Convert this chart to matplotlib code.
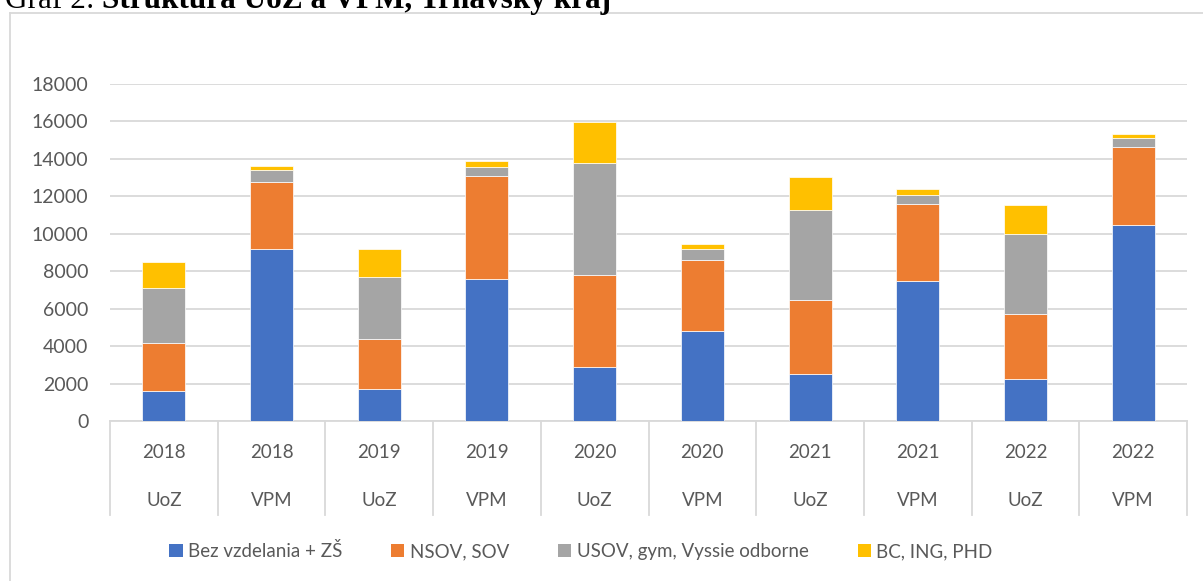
import matplotlib.pyplot as plt
from matplotlib.patches import Patch
from matplotlib.lines import Line2D
import numpy as np

# roky a typ (UoZ = uchadzaci o zamestnanie, VPM = volne pracovne miesta)
roky = ['2018', '2018', '2019', '2019', '2020', '2020', '2021', '2021', '2022', '2022']
typ = ['UoZ', 'VPM', 'UoZ', 'VPM', 'UoZ', 'VPM', 'UoZ', 'VPM', 'UoZ', 'VPM']

bez_vzdelania_zs = [1600, 9200, 1700, 7600, 2870, 4820, 2530, 7490, 2220, 10470]
nsov_sov = [2550, 3570, 2700, 5510, 4910, 3770, 3950, 4120, 3470, 4150]
usov_gym = [2950, 630, 3310, 480, 6020, 600, 4810, 480, 4290, 480]
bc_ing_phd = [1400, 240, 1480, 300, 2190, 250, 1740, 290, 1570, 240]

nazvy = ['Bez vzdelania + ZŠ', 'NSOV, SOV', 'USOV, gym, Vyssie odborne', 'BC, ING, PHD']
farby = ['#4472C4', '#ED7D31', '#A5A5A5', '#FFC000']

W, H = 1203, 581
plt.rcParams['font.family'] = ['Lato', 'DejaVu Sans']
fig = plt.figure(figsize=(W / 100, H / 100), dpi=100)

# plocha grafu v pixeloch
left, right, y0, ytop = 110, 1187, 421, 84
ax = fig.add_axes([left / W, 1 - y0 / H, (right - left) / W, (y0 - ytop) / H])

x = np.arange(len(roky))
spodok = np.zeros(len(roky))
for hodnoty, farba, nazov in zip([bez_vzdelania_zs, nsov_sov, usov_gym, bc_ing_phd], farby, nazvy):
    ax.bar(x, hodnoty, width=0.4, bottom=spodok, color=farba, edgecolor='white', linewidth=0.5,
           label=nazov, zorder=3)
    spodok += np.array(hodnoty)

ax.set_xlim(-0.5, len(roky) - 0.5)
ax.set_ylim(0, 18000)
ax.set_yticks(range(0, 18001, 2000))
ax.tick_params(axis='y', length=0, pad=15.5, labelsize=14, labelcolor='#595959')
ax.set_xticks([])
ax.grid(axis='y', color='#D9D9D9', linewidth=1.3, zorder=0)
for s in ['top', 'right', 'left']:
    ax.spines[s].set_visible(False)
ax.spines['bottom'].set_color('#D9D9D9')
ax.spines['bottom'].set_linewidth(1.3)

# popisky kategorii a oddelovace
h_ax = y0 - ytop
trans = ax.get_xaxis_transform()
for i in range(len(roky)):
    ax.text(i, -(452 - y0) / h_ax, roky[i], transform=trans, ha='center', va='center',
            fontsize=13.5, color='#595959')
    ax.text(i, -(500 - y0) / h_ax, typ[i], transform=trans, ha='center', va='center',
            fontsize=13.5, color='#595959')
for i in range(len(roky) + 1):
    ax.add_line(Line2D([i - 0.5, i - 0.5], [0, -(515 - y0) / h_ax], transform=trans,
                       color='#D9D9D9', linewidth=1.3, clip_on=False))

handles = [Patch(facecolor=f, label=n) for f, n in zip(farby, nazvy)]
fig.legend(handles=handles, loc='center', bbox_to_anchor=(581 / W, 1 - 551 / H), ncol=4,
           frameon=False, fontsize=13.5, labelcolor='#595959', handlelength=0.7,
           handleheight=0.7, handletextpad=0.3, columnspacing=2.6)

# ramcek grafu
fig.add_artist(Line2D([10 / W, 10 / W], [0, 1 - 13 / H], color='#D9D9D9', linewidth=1.3))
fig.add_artist(Line2D([10 / W, 1], [1 - 13 / H, 1 - 13 / H], color='#D9D9D9', linewidth=1.3))

# nadpis (orezany hore)
t1 = fig.text(5 / W, 1 - 8 / H, 'Graf 2: ', family='Liberation Serif', fontsize=22.5,
              va='baseline', ha='left')
fig.canvas.draw()
bb = t1.get_window_extent()
fig.text(bb.x1 / W, 1 - 8 / H, 'Štruktúra UoZ a VPM, Trnavský kraj', family='Liberation Serif',
         fontsize=22.5, fontweight='bold', va='baseline', ha='left')

fig.savefig('out.png', dpi=100)
